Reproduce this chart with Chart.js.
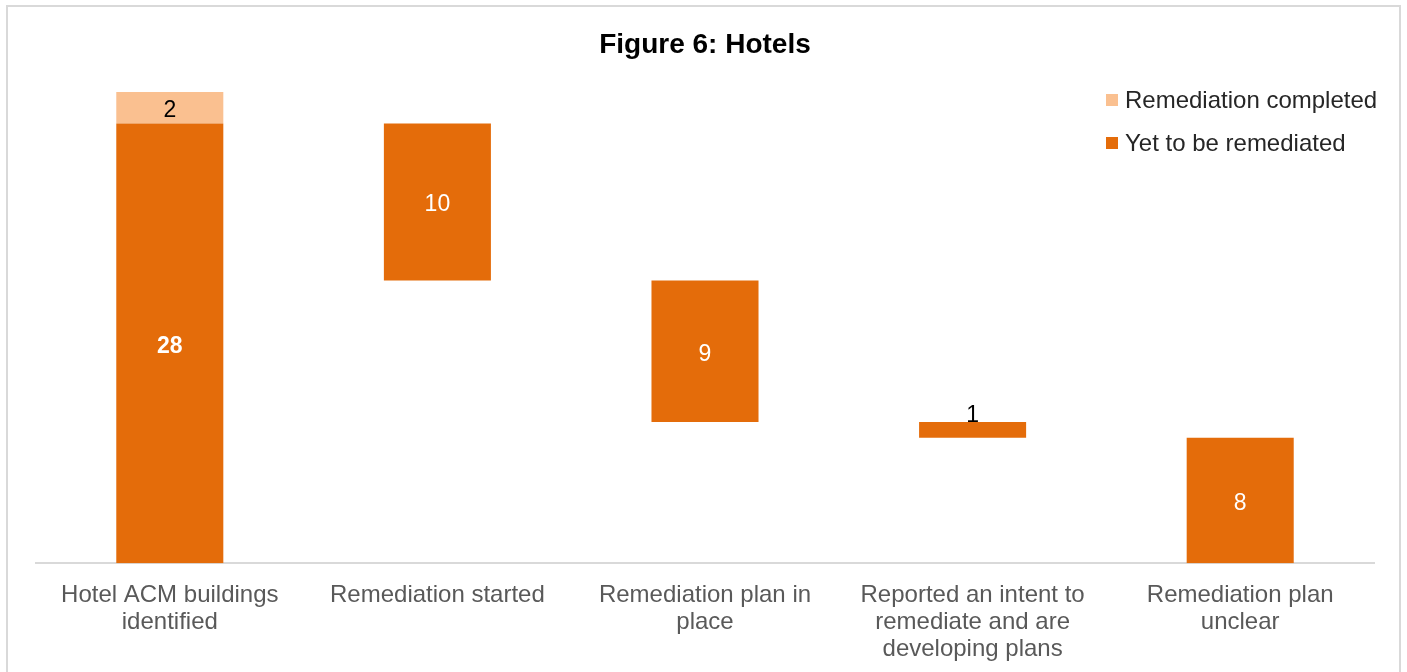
<!DOCTYPE html>
<html>
<head>
<meta charset="utf-8">
<script src="https://cdn.jsdelivr.net/npm/chart.js@4/dist/chart.umd.min.js"></script>
<style>
  html, body { margin: 0; padding: 0; background: #fff; overflow: hidden; }
  #wrap { position: relative; width: 1407px; height: 672px; overflow: hidden; }
  #frame { position: absolute; left: 6px; top: 5px; width: 1395px; height: 700px;
           border: 2px solid #d9d9d9; box-sizing: border-box; }
  canvas { position: absolute; left: 0; top: 0; }
</style>
</head>
<body>
<div id="wrap">
  <div id="frame"></div>
  <canvas id="waterfall" width="1407" height="690"></canvas>
</div>
<script>
// Kategori dan nilai
const categories = [
  ['Hotel ACM buildings', 'identified'],
  'Remediation started',
  ['Remediation plan in', 'place'],
  ['Reported an intent to', 'remediate and are', 'developing plans'],
  ['Remediation plan', 'unclear']
];
const yetValues = [28, 10, 9, 1, 8];      // Yet to be remediated
const completedValues = [2, 0, 0, 0, 0];  // Remediation completed
const yMax = 30;

// hitung dasar waterfall: batang pertama dari 0, berikutnya turun
const yetBars = [];
let level = yetValues[0];
yetValues.forEach((v, i) => {
  if (i === 0) { yetBars.push([0, v]); return; }
  yetBars.push([level - v, level]);
  level -= v;
});
const completedBars = completedValues.map((v, i) =>
  v ? [yetValues[0], yetValues[0] + v] : null);

const dark = '#E46C0A';
const light = '#FAC090';
const fontFam = '"Liberation Sans", Arial, sans-serif';

// label angka di tiap batang
const labelPlugin = {
  id: 'barLabels',
  afterDatasetsDraw(chart) {
    const ctx = chart.ctx;
    ctx.save();
    ctx.textAlign = 'center';
    ctx.textBaseline = 'middle';
    chart.data.datasets.forEach((ds, di) => {
      const meta = chart.getDatasetMeta(di);
      meta.data.forEach((bar, i) => {
        const raw = ds.values[i];
        if (!raw) return;
        const mid = (bar.y + bar.base) / 2;
        let y = mid + 3;
        ctx.font = '23px ' + fontFam;
        ctx.fillStyle = '#fff';
        if (di === 1) {
          ctx.fillStyle = '#000';
        } else if (i === 0) {
          ctx.font = 'bold 23px ' + fontFam;
        } else if (raw === 1) {
          // batang terlalu tipis, label di atas
          ctx.fillStyle = '#000';
          y = Math.min(bar.y, bar.base) - 6;
        }
        ctx.fillText(String(raw), bar.x, y);
      });
    });
    ctx.restore();
  }
};

// judul dan legenda
const decorPlugin = {
  id: 'decor',
  afterDraw(chart) {
    const ctx = chart.ctx;
    ctx.save();
    ctx.fillStyle = '#000';
    ctx.textAlign = 'center';
    ctx.textBaseline = 'middle';
    ctx.font = 'bold 28px ' + fontFam;
    ctx.fillText('Figure 6: Hotels', 705, 45);

    const items = [
      { text: 'Remediation completed', color: light, y: 100 },
      { text: 'Yet to be remediated', color: dark, y: 143 }
    ];
    ctx.textAlign = 'left';
    ctx.font = '24px ' + fontFam;
    items.forEach(it => {
      ctx.fillStyle = it.color;
      ctx.fillRect(1106, it.y - 6, 12, 12);
      ctx.fillStyle = '#262626';
      ctx.fillText(it.text, 1125, it.y + 1);
    });
    ctx.restore();
  }
};

new Chart(document.getElementById('waterfall'), {
  type: 'bar',
  data: {
    labels: categories,
    datasets: [{
      label: 'Yet to be remediated',
      data: yetBars,
      values: yetValues,
      backgroundColor: dark,
      grouped: false,
      barPercentage: 1,
      categoryPercentage: 0.4
    }, {
      label: 'Remediation completed',
      data: completedBars,
      values: completedValues,
      backgroundColor: light,
      grouped: false,
      barPercentage: 1,
      categoryPercentage: 0.4
    }]
  },
  options: {
    responsive: false,
    animation: false,
    layout: { padding: { top: 92, left: 36, right: 33, bottom: 8 } },
    plugins: {
      legend: { display: false },
      tooltip: { enabled: false }
    },
    scales: {
      x: {
        grid: { display: false, drawTicks: false },
        border: { color: '#d9d9d9', width: 2 },
        ticks: {
          color: '#595959',
          padding: 19,
          maxRotation: 0,
          autoSkip: false,
          font: { family: fontFam, size: 24, lineHeight: 1.12 }
        }
      },
      y: {
        display: false,
        min: 0,
        max: yMax
      }
    }
  },
  plugins: [labelPlugin, decorPlugin]
});
</script>
</body>
</html>
